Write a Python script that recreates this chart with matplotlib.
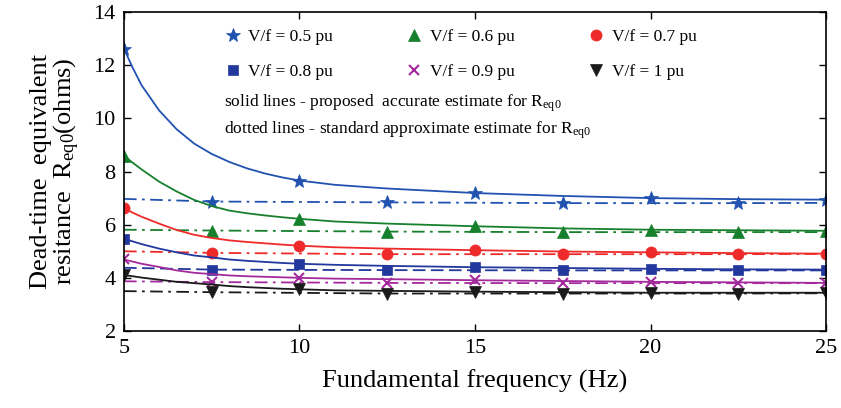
import numpy as np
import matplotlib
matplotlib.use("Agg")
import matplotlib.pyplot as plt
from matplotlib.lines import Line2D

plt.rcParams['font.family'] = ['Liberation Serif', 'DejaVu Serif']
plt.rcParams['mathtext.fontset'] = 'custom'
plt.rcParams['mathtext.rm'] = 'Liberation Serif'
plt.rcParams['mathtext.it'] = 'Liberation Serif:italic'

# frequency grid read for the solid (proposed) curves
f_solid = [5, 5.25, 5.5, 6, 6.5, 7, 7.5, 8, 8.5, 9, 9.5, 10, 11, 12.5, 15, 17.5, 20, 22.5, 25]
solid_mark_idx = [0, 11, 14, 16, 18]         # markers at 5, 10, 15, 20, 25
# frequency grid for the dotted (standard) lines
f_dot = [5, 7.5, 12.5, 17.5, 22.5, 25]
dot_mark_idx = [1, 2, 3, 4]                  # markers at 7.5, 12.5, 17.5, 22.5

labels = ['V/f = 0.5 pu', 'V/f = 0.6 pu', 'V/f = 0.7 pu',
          'V/f = 0.8 pu', 'V/f = 0.9 pu', 'V/f = 1 pu']

r_solid = [
    [12.62, 11.9, 11.25, 10.3, 9.59, 9.05, 8.66, 8.36, 8.12, 7.93, 7.78, 7.66, 7.5, 7.36, 7.19, 7.08, 7.0, 6.96, 6.94],
    [8.59, 8.33, 8.08, 7.62, 7.25, 6.93, 6.7, 6.53, 6.43, 6.35, 6.28, 6.22, 6.12, 6.04, 5.94, 5.86, 5.81, 5.79, 5.77],
    [6.62, 6.45, 6.3, 6.04, 5.8, 5.62, 5.5, 5.41, 5.35, 5.3, 5.25, 5.21, 5.15, 5.1, 5.04, 4.99, 4.96, 4.93, 4.91],
    [5.47, 5.37, 5.27, 5.1, 4.96, 4.84, 4.77, 4.69, 4.64, 4.6, 4.56, 4.53, 4.49, 4.45, 4.4, 4.37, 4.34, 4.32, 4.31],
    [4.69, 4.61, 4.53, 4.41, 4.28, 4.19, 4.14, 4.09, 4.06, 4.04, 4.02, 4.0, 3.97, 3.95, 3.91, 3.88, 3.85, 3.83, 3.81],
    [4.1, 4.06, 4.01, 3.93, 3.85, 3.8, 3.75, 3.69, 3.65, 3.62, 3.59, 3.57, 3.53, 3.51, 3.48, 3.46, 3.44, 3.44, 3.44],
]
r_dot = [
    [6.97, 6.87, 6.84, 6.81, 6.81, 6.82],
    [5.81, 5.78, 5.74, 5.72, 5.72, 5.72],
    [5.0, 4.94, 4.89, 4.89, 4.89, 4.9],
    [4.38, 4.31, 4.29, 4.28, 4.28, 4.28],
    [3.87, 3.84, 3.81, 3.8, 3.8, 3.8],
    [3.5, 3.46, 3.41, 3.41, 3.41, 3.42],
]

colors = ['#2152b0', '#17802d', '#ee2a2a', '#22389c', '#a3299c', '#1a1a1a']
markers = ['*', '^', 'o', 's', 'x', 'v']
msizes = [10, 8, 8, 6.5, 7, 8.5]
dot_styles = [(0, (7, 3, 1.5, 3))] * 3 + [(0, (7, 3))] + [(0, (7, 3, 1.5, 3))] * 2

fig = plt.figure(figsize=(8.41, 4.08), dpi=100)
ax = fig.add_axes([0.1474, 0.1887, 0.9822 - 0.1474, 0.9706 - 0.1887])

handles = []
for i in range(6):
    mew = 1.5 if markers[i] == 'x' else 0.5
    ax.plot(f_solid, r_solid[i], color=colors[i], lw=1.3, ls='-',
            marker=markers[i], ms=msizes[i], markevery=solid_mark_idx, mew=mew)
    ax.plot(f_dot, r_dot[i], color=colors[i], lw=1.3, ls=dot_styles[i],
            marker=markers[i], ms=msizes[i], markevery=dot_mark_idx, mew=mew)
    handles.append(Line2D([], [], color=colors[i], ls='none', marker=markers[i],
                          ms=msizes[i], mew=mew, label=labels[i]))

ax.set_xlim(5, 25)
ax.set_ylim(2, 14)
ax.set_xticks([5, 10, 15, 20, 25])
ax.set_yticks([2, 4, 6, 8, 10, 12, 14])
ax.tick_params(direction='in', length=5, width=1, labelsize=16,
               top=True, right=True, pad=6)
for s in ax.spines.values():
    s.set_linewidth(1.2)

ax.set_xlabel('Fundamental frequency (Hz)', fontsize=19, labelpad=8)
ax.set_ylabel('Dead-time  equivalent\nresitance  R$_{\\rm eq0}$(ohms)',
              fontsize=19, labelpad=8, linespacing=1.0)

# legend rows: 0.5 0.6 0.7 / 0.8 0.9 1 (legend fills column-wise)
order = [0, 3, 1, 4, 2, 5]
ax.legend([handles[k] for k in order], [labels[k] for k in order], ncol=3,
          loc='upper left', bbox_to_anchor=(0.12, 0.997), frameon=False,
          fontsize=12.5, handlelength=1.0, handletextpad=0.4,
          columnspacing=4.2, labelspacing=1.1)

ax.text(0.143, 0.715, 'solid lines - proposed  accurate estimate for R$_{\\rm eq0}$',
        transform=ax.transAxes, fontsize=12.5, va='center')
ax.text(0.143, 0.63, 'dotted lines - standard approximate estimate for R$_{\\rm eq0}$',
        transform=ax.transAxes, fontsize=12.5, va='center')

fig.savefig('out.png', dpi=100)
